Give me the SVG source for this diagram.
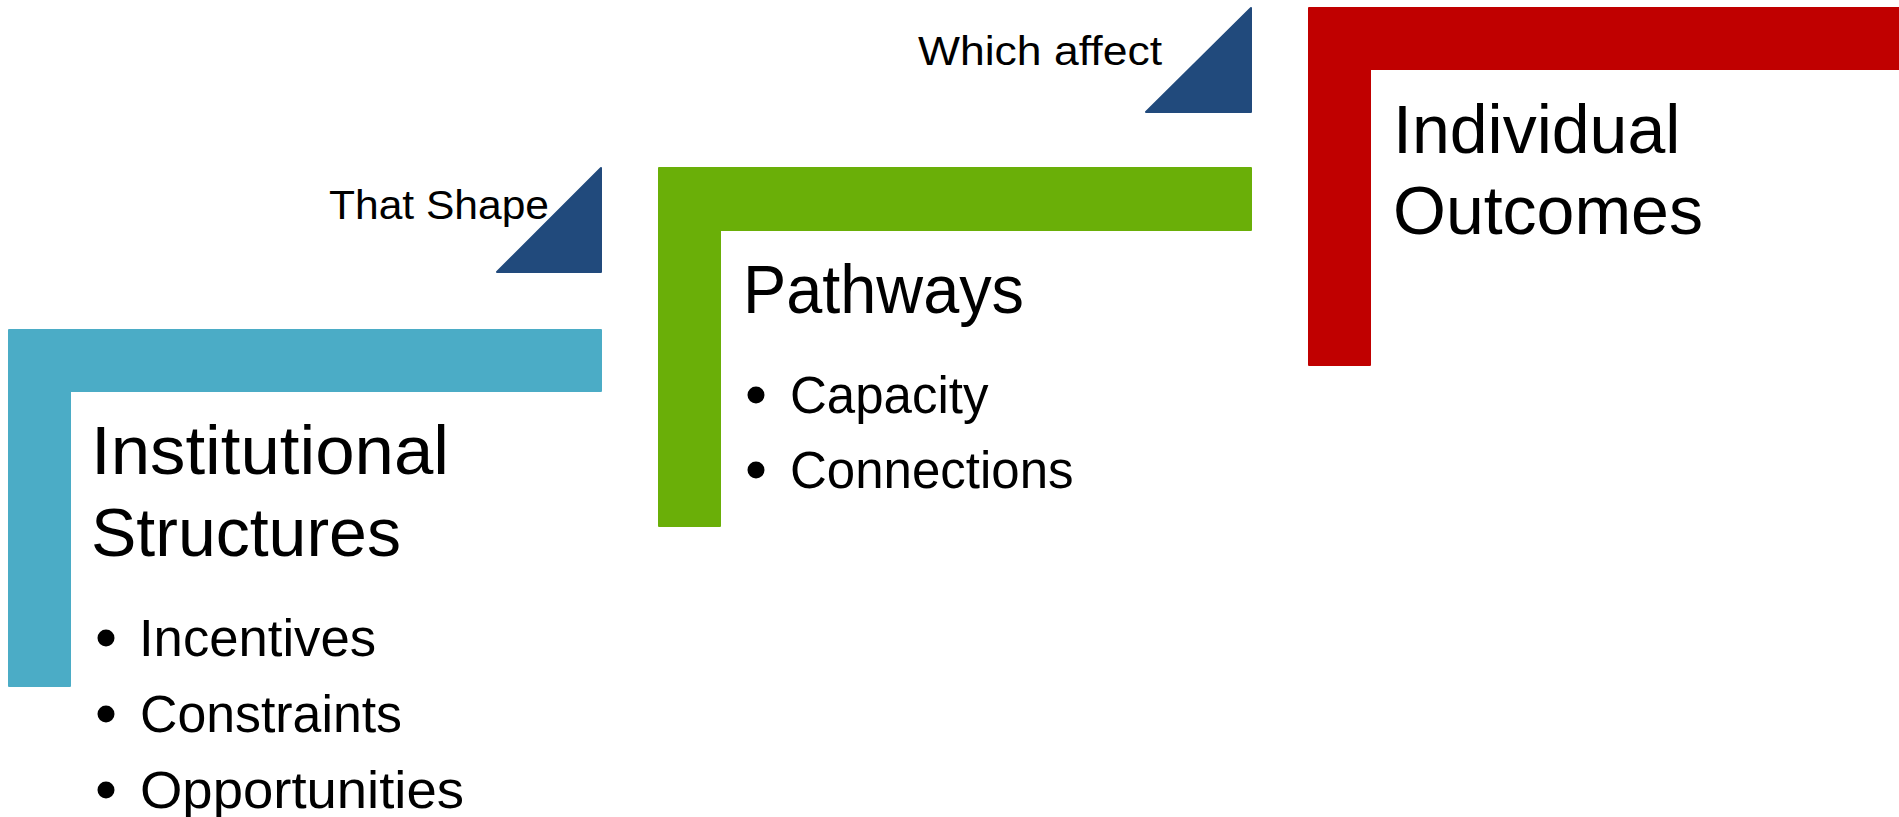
<svg xmlns="http://www.w3.org/2000/svg" width="1899" height="817" viewBox="0 0 1899 817">
<style>
text{font-family:"Liberation Sans",Arial,sans-serif;fill:#000}
.title{font-size:68px}
.item{font-size:51px}
.lbl{font-size:41px}
.frame{stroke-width:2;stroke-linejoin:round}
.tri{fill:#214A7C;stroke:#214A7C;stroke-width:2;stroke-linejoin:round}
.dot{fill:#000}
</style>
<rect width="1899" height="817" fill="#fff"/>
<g id="connectors">
<g id="arrow-that-shape">
<path class="tri" d="M601,168 V272 H497 Z"/>
<text class="lbl" x="329" y="219" textLength="220" lengthAdjust="spacingAndGlyphs">That Shape</text>
</g>
<g id="arrow-which-affect">
<path class="tri" d="M1251,8 V112 H1146 Z"/>
<text class="lbl" x="918" y="65" textLength="244" lengthAdjust="spacingAndGlyphs">Which affect</text>
</g>
</g>
<g id="node-institutional">
<path class="frame" fill="#4BACC6" stroke="#4BACC6" d="M9,330 H601 V391 H70 V686 H9 Z"/>
<text class="title" x="91" y="474" textLength="358" lengthAdjust="spacingAndGlyphs">Institutional</text>
<text class="title" x="91" y="556">Structures</text>
<circle class="dot" cx="106" cy="638" r="8.5"/>
<text class="item" x="139" y="656" textLength="237" lengthAdjust="spacingAndGlyphs">Incentives</text>
<circle class="dot" cx="106" cy="714" r="8.5"/>
<text class="item" x="140" y="732" textLength="262" lengthAdjust="spacingAndGlyphs">Constraints</text>
<circle class="dot" cx="106" cy="790" r="8.5"/>
<text class="item" x="140" y="808" textLength="324" lengthAdjust="spacingAndGlyphs">Opportunities</text>
</g>
<g id="node-pathways">
<path class="frame" fill="#6AAF08" stroke="#6AAF08" d="M659,168 H1251 V230 H720 V526 H659 Z"/>
<text class="title" x="743" y="313" textLength="281" lengthAdjust="spacingAndGlyphs">Pathways</text>
<circle class="dot" cx="756" cy="395" r="8.5"/>
<text class="item" x="790" y="413">Capacity</text>
<circle class="dot" cx="756" cy="470" r="8.5"/>
<text class="item" x="790" y="488">Connections</text>
</g>
<g id="node-outcomes">
<path class="frame" fill="#C00000" stroke="#C00000" d="M1309,8 H1910 V69 H1370 V365 H1309 Z"/>
<text class="title" x="1393" y="153">Individual</text>
<text class="title" x="1393" y="234">Outcomes</text>
</g>
</svg>
